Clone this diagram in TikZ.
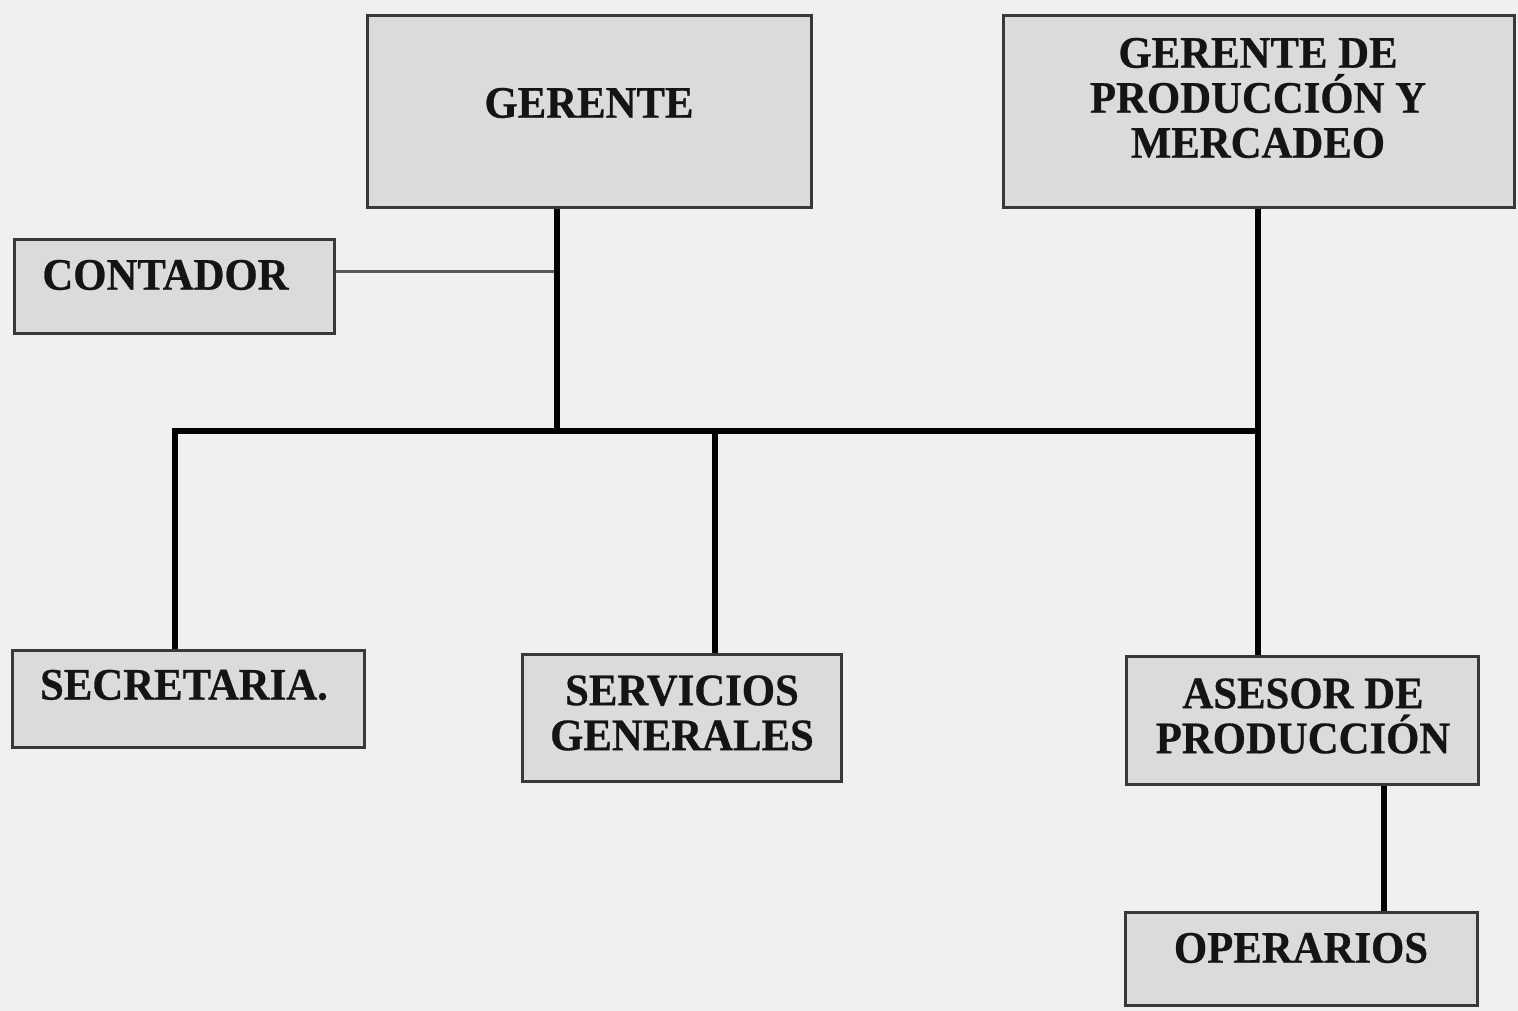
\documentclass[tikz,border=0pt]{standalone}
\usepackage{fontspec}
\setmainfont{Liberation Serif}[FakeStretch=0.95,FakeBold=0.6]
\begin{document}
\begin{tikzpicture}[x=1pt,y=-1pt,
  box/.style={draw=black!78,line width=3pt,fill=black!14,inner sep=0pt},
  lbl/.style={font=\fontsize{45}{45}\selectfont\bfseries,align=center,inner sep=0pt,text=black!92},
  bus/.style={line width=6pt,draw=black},
  thin/.style={line width=3pt,draw=black!65}]
\fill[black!6] (0,0) rectangle (1518,1011);
\useasboundingbox (0,0) rectangle (1518,1011);
% boxes
\node[box,minimum width=444pt,minimum height=192pt] (ger) at (589,112) {};
\node[box,minimum width=511pt,minimum height=192pt] (gpm) at (1258.5,112) {};
\node[box,minimum width=320pt,minimum height=93pt] (cont) at (174,286.5) {};
\node[box,minimum width=352pt,minimum height=97pt] (sec) at (188,698.5) {};
\node[box,minimum width=319pt,minimum height=127pt] (serv) at (681.5,717.5) {};
\node[box,minimum width=352pt,minimum height=128pt] (ase) at (1302,720) {};
\node[box,minimum width=352pt,minimum height=93pt] (ope) at (1301,958.5) {};
% labels
\node[lbl] (tger) at (589,103) {GERENTE};
\node[lbl] (tgpm) at (1258,98) {GERENTE DE\\PRODUCCIÓN Y\\MERCADEO};
\node[lbl] (tcont) at (165.5,275) {CONTADOR};
\node[lbl] (tsec) at (184,685) {SECRETARIA.};
\node[lbl] (tserv) at (682,713) {SERVICIOS\\GENERALES};
\node[lbl] (tase) at (1303,716) {ASESOR DE\\PRODUCCIÓN};
\node[lbl] (tope) at (1301,948) {OPERARIOS};
% junction coordinates
\coordinate (jc) at (557,271);
\coordinate (jm) at (557,431);
\coordinate (jl) at (175,431);
\coordinate (js) at (715,431);
\coordinate (jr) at (1258,431);
\coordinate (jo) at (1384,0);
% connectors
\draw[thin] (cont.east |- jc) -- (jc);
\draw[bus] (ger.south -| jm) -- (jm);
\draw[bus] (sec.north -| jl) -- (jl) -- (jr);
\draw[bus] (js) -- (serv.north -| js);
\draw[bus] (gpm.south -| jr) -- (ase.north -| jr);
\draw[bus] (ase.south -| jo) -- (ope.north -| jo);
\end{tikzpicture}
\end{document}
